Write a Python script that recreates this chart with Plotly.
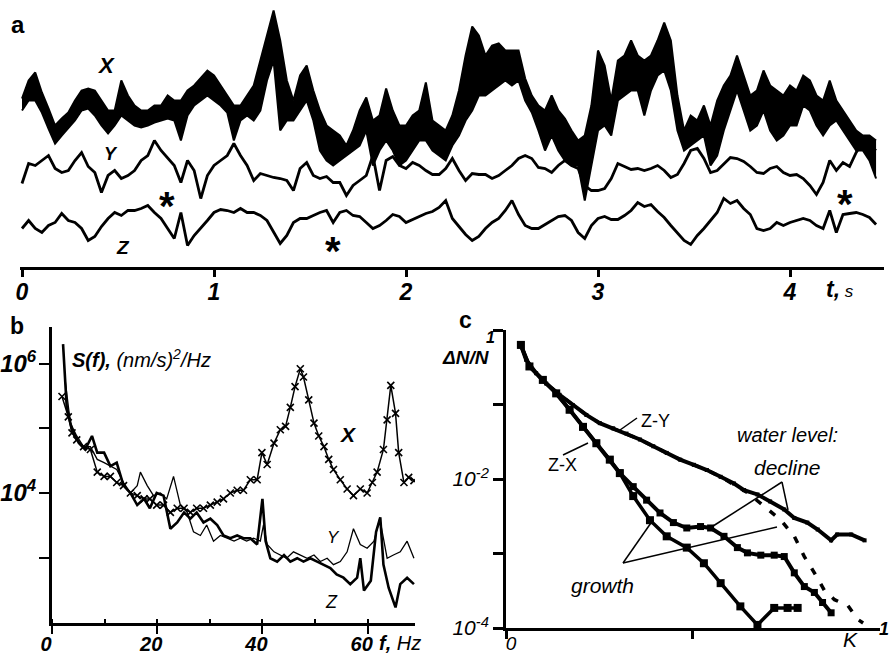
import numpy as np
import plotly.graph_objects as go

# ---------------- panel a : digitised records (arbitrary units, height above the time axis)
fs = 29.0  # samples per second of the digitised record
x_upper = [168, 186, 194, 174, 158, 141, 148, 154, 166, 176,
           178, 176, 166, 156, 156, 186, 171, 161, 156, 156,
           161, 161, 171, 166, 166, 176, 181, 188, 196, 191,
           181, 171, 161, 161, 171, 181, 206, 231, 256, 226,
           186, 166, 191, 201, 176, 156, 141, 136, 131, 121,
           136, 156, 169, 146, 151, 178, 156, 141, 141, 151,
           156, 184, 146, 141, 136, 151, 176, 211, 240, 231,
           211, 221, 223, 216, 216, 216, 188, 171, 161, 156,
           171, 156, 148, 136, 126, 131, 161, 216, 201, 166,
           206, 211, 226, 211, 206, 211, 226, 244, 226, 171,
           136, 151, 146, 161, 141, 166, 181, 191, 211, 191,
           171, 176, 196, 181, 176, 171, 181, 176, 191, 186,
           171, 166, 186, 166, 156, 146, 136, 131, 131, 126]
x_lower = [156, 166, 166, 154, 138, 123, 131, 138, 146, 156,
           158, 151, 141, 133, 141, 151, 146, 141, 139, 141,
           144, 146, 148, 146, 126, 151, 161, 166, 171, 166,
           161, 154, 126, 146, 151, 146, 156, 186, 206, 136,
           146, 146, 156, 166, 146, 116, 106, 101, 106, 111,
           116, 121, 136, 101, 116, 126, 116, 101, 106, 116,
           126, 126, 116, 111, 106, 121, 131, 146, 156, 171,
           171, 176, 181, 186, 181, 186, 166, 154, 136, 116,
           131, 116, 106, 101, 101, 66, 101, 136, 141, 131,
           166, 171, 176, 176, 151, 176, 191, 196, 176, 136,
           116, 121, 126, 131, 101, 111, 136, 156, 176, 156,
           136, 141, 156, 136, 126, 131, 141, 141, 161, 156,
           141, 131, 141, 146, 136, 126, 116, 116, 106, 88]
y_trace = [83, 103, 101, 106, 111, 98, 94, 96, 106, 114,
           100, 94, 74, 91, 96, 88, 91, 96, 106, 111,
           126, 116, 108, 101, 84, 106, 96, 68, 91, 101,
           106, 111, 123, 111, 101, 86, 93, 91, 89, 88,
           86, 76, 98, 104, 91, 88, 90, 84, 84, 71,
           81, 86, 91, 111, 76, 106, 110, 101, 98, 104,
           101, 96, 92, 92, 98, 108, 96, 86, 93, 92,
           92, 88, 91, 96, 101, 108, 111, 108, 99, 98,
           94, 101, 106, 101, 98, 81, 76, 76, 78, 88,
           103, 100, 97, 98, 96, 98, 101, 96, 89, 92,
           103, 116, 118, 108, 94, 96, 102, 109, 108, 105,
           100, 94, 93, 98, 100, 94, 91, 92, 88, 81,
           72, 84, 106, 96, 104, 100, 114, 125, 121, 116]
z_trace = [38, 46, 38, 34, 41, 44, 53, 46, 44, 38,
           26, 30, 40, 48, 54, 51, 56, 56, 58, 61,
           54, 48, 38, 28, 54, 21, 31, 38, 46, 54,
           57, 56, 54, 58, 54, 54, 51, 46, 34, 23,
           31, 44, 48, 48, 51, 54, 56, 44, 54, 56,
           51, 50, 44, 38, 41, 46, 52, 50, 44, 47,
           50, 53, 55, 59, 66, 48, 40, 32, 26, 30,
           38, 44, 48, 56, 66, 52, 41, 38, 38, 42,
           46, 50, 51, 46, 34, 28, 41, 48, 50, 47,
           47, 51, 56, 64, 60, 62, 55, 49, 41, 33,
           26, 22, 31, 38, 46, 54, 68, 63, 66, 58,
           52, 38, 36, 38, 44, 41, 44, 46, 48, 46,
           41, 38, 56, 34, 52, 53, 54, 52, 49, 42]
t = np.arange(len(z_trace)) / fs
a_tickvals = [0, 1, 2, 3, 4]
a_ticktext = ["0", "1", "2", "3", "4"]

# ---------------- panel b : spectra S(f), (nm/s)^2/Hz
fx = [1.9, 3.1, 3.8, 4.7, 6.0, 7.3, 8.6, 9.9, 11.1, 12.3,
      13.6, 14.9, 16.2, 17.5, 18.6, 19.9, 21.2, 22.5, 23.8, 25.1,
      26.3, 27.5, 28.8, 30.1, 31.4, 32.6, 33.9, 35.2, 36.4, 37.7,
      39.0, 39.9, 40.9, 42.2, 43.4, 44.4, 45.3, 46.2, 47.2, 47.8,
      48.8, 49.8, 50.7, 51.7, 52.6, 53.5, 54.8, 56.1, 57.3, 58.6,
      59.9, 60.9, 61.8, 63.0, 63.7, 64.4, 65.3, 65.9, 66.9, 67.8, 68.8]
sx = [3.1e5, 1.5e5, 8.5e4, 6.6e4, 5.2e4, 4.7e4, 2.1e4, 1.8e4, 1.8e4, 1.45e4,
      1.3e4, 1.0e4, 9.1e3, 8.1e3, 8.1e3, 6.5e3, 6.5e3, 5.0e3, 5.8e3, 5.8e3,
      5.0e3, 5.8e3, 5.8e3, 6.5e3, 7.2e3, 8.1e3, 1.0e4, 1.1e4, 1.1e4, 1.6e4,
      1.6e4, 4.2e4, 2.75e4, 5.9e4, 9.5e4, 1.07e5, 2.1e5, 4.4e5, 8.3e5, 6.2e5,
      2.75e5, 1.2e5, 7.6e4, 5.2e4, 3.3e4, 2.3e4, 1.6e4, 1.15e4, 9.1e3, 1.15e4,
      1.0e4, 1.45e4, 2.1e4, 4.7e4, 1.35e5, 4.6e5, 1.7e5, 4.2e4, 1.45e4, 1.74e4, 1.55e4]
fy = [2.5, 3.5, 4.7, 6.0, 7.3, 8.6, 9.9, 11.1, 12.3, 13.6,
      14.9, 16.2, 16.8, 18.1, 19.3, 20.6, 21.8, 23.1, 24.4, 25.7,
      26.9, 28.2, 29.4, 30.7, 32.0, 33.3, 34.6, 35.8, 37.0, 38.3,
      39.6, 40.2, 40.9, 42.2, 43.4, 44.6, 45.9, 47.2, 48.5, 49.8,
      51.0, 52.3, 53.5, 54.8, 56.1, 57.3, 58.6, 59.9, 61.2, 62.3,
      63.7, 64.9, 66.2, 67.5, 68.8]
sy = [5.5e5, 1.2e5, 7.6e4, 5.2e4, 5.2e4, 3.3e4, 2.95e4, 2.6e4, 2.3e4, 1.45e4,
      1.0e4, 1.3e4, 2.1e4, 1.3e4, 9.1e3, 1.0e4, 8.1e3, 1.8e4, 6.5e3, 5.0e3,
      2.5e3, 2.2e3, 3.2e3, 1.8e3, 2.2e3, 2.0e3, 1.8e3, 2.0e3, 1.8e3, 2.0e3,
      1.8e3, 3.2e3, 1.6e3, 1.23e3, 1.1e3, 980, 1.23e3, 1.1e3, 980, 1.1e3,
      870, 980, 780, 870, 1.23e3, 2.8e3, 1.6e3, 1.4e3, 1.8e3, 4.0e3,
      980, 1.1e3, 1.23e3, 1.8e3, 980]
fz = [2.1, 2.8, 3.8, 5.1, 6.3, 7.6, 8.6, 9.9, 11.1, 12.3,
      13.6, 14.9, 16.2, 17.5, 18.6, 19.9, 21.2, 22.5, 23.8, 25.1,
      26.3, 27.5, 28.8, 30.1, 31.4, 32.6, 33.9, 35.2, 36.4, 37.7,
      39.0, 40.0, 40.6, 41.5, 42.8, 44.1, 45.3, 46.6, 47.8, 49.1,
      50.4, 51.7, 52.9, 54.1, 55.4, 56.7, 58.0, 58.6, 59.3, 60.6,
      61.6, 62.4, 63.0, 64.0, 65.3, 66.2, 67.5, 68.8]
sz = [2.0e6, 2.1e5, 9.5e4, 5.9e4, 4.7e4, 7.6e4, 4.2e4, 4.2e4, 2.6e4, 2.95e4,
      1.3e4, 1.0e4, 6.5e3, 8.1e3, 5.8e3, 1.0e4, 9.1e3, 2.8e3, 3.5e3, 5.0e3,
      4.0e3, 5.0e3, 3.5e3, 4.0e3, 3.2e3, 2.2e3, 2.0e3, 2.2e3, 2.0e3, 2.0e3,
      1.6e3, 8.1e3, 1.8e3, 980, 870, 1.1e3, 870, 980, 870, 980,
      870, 780, 690, 550, 490, 390, 490, 980, 310, 440,
      2.5e3, 4.2e3, 780, 340, 170, 390, 490, 390]
b_xticks = [0, 20, 40, 60]
b_xticktext = ["0", "20", "40", "60"]
b_yticks = [1e4, 1e6]
b_yticktext = ["10<sup>4</sup>", "10<sup>6</sup>"]
b_yminor = [1e3, 1e5]

# ---------------- panel c : distributions dN/N versus K
k_zy = [0.04, 0.054, 0.081, 0.108, 0.144, 0.18, 0.216, 0.252, 0.288, 0.324,
        0.36, 0.396, 0.432, 0.468, 0.505, 0.54, 0.577, 0.613, 0.64, 0.676,
        0.71, 0.748, 0.775, 0.81, 0.838, 0.874, 0.89, 0.928, 0.964]
n_zy = [0.631, 0.398, 0.263, 0.191, 0.135, 0.0977, 0.0724, 0.0562, 0.0479, 0.0407,
        0.0339, 0.0275, 0.0224, 0.0182, 0.0155, 0.0132, 0.0107, 0.0087, 0.0071, 0.0062,
        0.0050, 0.0039, 0.0030, 0.0026, 0.0021, 0.0015, 0.0018, 0.0018, 0.0015]
k_zy2 = [0.04, 0.054, 0.081, 0.108, 0.144, 0.18, 0.216, 0.252, 0.288, 0.324,
         0.36, 0.396, 0.432, 0.468, 0.505, 0.54, 0.577, 0.613, 0.65, 0.694,
         0.739, 0.775, 0.802, 0.829, 0.856, 0.883, 0.919, 0.946, 0.96]
n_zy2 = [0.631, 0.398, 0.263, 0.191, 0.135, 0.0977, 0.0724, 0.0562, 0.0479, 0.0407,
         0.0339, 0.0275, 0.0224, 0.0182, 0.0155, 0.0132, 0.0107, 0.0083, 0.0065, 0.0043,
         0.0028, 0.0017, 0.00091, 0.00055, 0.00032, 0.00024, 0.0002, 0.00013, 0.000117]
k_zx = [0.04, 0.063, 0.099, 0.135, 0.171, 0.207, 0.243, 0.279, 0.306, 0.342,
        0.378, 0.414, 0.45, 0.486, 0.523, 0.55, 0.586, 0.622, 0.649, 0.685,
        0.721, 0.748, 0.775, 0.802, 0.829, 0.851, 0.874]
n_zx = [0.631, 0.324, 0.214, 0.141, 0.0851, 0.0501, 0.0302, 0.0182, 0.0120, 0.0079,
        0.0052, 0.0035, 0.0026, 0.0022, 0.0023, 0.0022, 0.0017, 0.0012, 0.00102, 0.00095,
        0.00095, 0.00091, 0.00055, 0.00036, 0.00030, 0.00022, 0.00016]
k_zx2 = [0.04, 0.063, 0.099, 0.135, 0.171, 0.207, 0.243, 0.279, 0.306, 0.342,
         0.387, 0.432, 0.486, 0.532, 0.577, 0.63, 0.676, 0.721, 0.757, 0.784]
n_zx2 = [0.631, 0.324, 0.214, 0.141, 0.0851, 0.0501, 0.0302, 0.0182, 0.0120, 0.0059,
         0.0028, 0.0017, 0.0012, 0.00074, 0.0004, 0.000195, 0.00011, 0.000186, 0.000186, 0.000186]
c_yticks = [1e-4, 1e-2]
c_yticktext = ["10<sup>-4</sup>", "10<sup>-2</sup>"]
c_yminor = [1e-3, 1e-1, 1]
c_xticks = [0]
c_xticktext = ["0"]
c_xminor = [0.5]

# ---------------- figure
W, H = 889, 655
FONT = "Liberation Sans, Arial, sans-serif"
BLACK = "black"


def PX(x):
    return x / W


def PY(y):
    return 1 - y / H


fig = go.Figure()

# panel a
fig.add_trace(go.Scatter(x=t, y=x_lower, mode="lines", line=dict(color=BLACK, width=2),
                         xaxis="x", yaxis="y", hoverinfo="skip"))
fig.add_trace(go.Scatter(x=t, y=x_upper, mode="lines", line=dict(color=BLACK, width=2),
                         fill="tonexty", fillcolor=BLACK, xaxis="x", yaxis="y", hoverinfo="skip"))
fig.add_trace(go.Scatter(x=t, y=y_trace, mode="lines", line=dict(color=BLACK, width=2.8),
                         xaxis="x", yaxis="y"))
fig.add_trace(go.Scatter(x=t, y=z_trace, mode="lines", line=dict(color=BLACK, width=2.8),
                         xaxis="x", yaxis="y"))

# panel b
fig.add_trace(go.Scatter(x=fz, y=sz, mode="lines", line=dict(color=BLACK, width=2.6),
                         xaxis="x2", yaxis="y2"))
fig.add_trace(go.Scatter(x=fy, y=sy, mode="lines", line=dict(color=BLACK, width=1.3),
                         xaxis="x2", yaxis="y2"))
fig.add_trace(go.Scatter(x=fx, y=sx, mode="lines+markers", line=dict(color=BLACK, width=1.5),
                         marker=dict(symbol="x-thin-open", size=7, color=BLACK,
                                     line=dict(width=1.6, color=BLACK)),
                         xaxis="x2", yaxis="y2"))

# panel c
fig.add_trace(go.Scatter(x=k_zy2, y=n_zy2, mode="lines", line=dict(color=BLACK, width=3.5, dash="7px,11px"),
                         xaxis="x3", yaxis="y3"))
fig.add_trace(go.Scatter(x=k_zy, y=n_zy, mode="lines+markers", line=dict(color=BLACK, width=4),
                         marker=dict(symbol="square", size=4, color=BLACK),
                         xaxis="x3", yaxis="y3"))
fig.add_trace(go.Scatter(x=k_zx2, y=n_zx2, mode="lines+markers", line=dict(color=BLACK, width=3.5),
                         marker=dict(symbol="square", size=8, color=BLACK),
                         xaxis="x3", yaxis="y3"))
fig.add_trace(go.Scatter(x=k_zx, y=n_zx, mode="lines+markers", line=dict(color=BLACK, width=4),
                         marker=dict(symbol="square", size=7, color=BLACK),
                         xaxis="x3", yaxis="y3"))

axis_common = dict(showgrid=False, zeroline=False, showline=True, linecolor=BLACK,
                   tickcolor=BLACK, color=BLACK, automargin=False)

fig.update_layout(
    template="none",
    width=W, height=H, margin=dict(l=0, r=0, t=0, b=0, pad=0), autosize=False,
    paper_bgcolor="white", plot_bgcolor="white", showlegend=False,
    font=dict(family=FONT, color=BLACK),
    xaxis=dict(domain=[PX(20), PX(884)], range=[-2 / 192, 862 / 192], anchor="y",
               linewidth=3, ticks="outside", ticklen=7, tickwidth=2.5,
               tickvals=a_tickvals, ticktext=a_ticktext, ticklabelstandoff=-4,
               tickfont=dict(size=23, weight="bold", style="italic", family=FONT),
               **axis_common),
    yaxis=dict(domain=[PY(266.5), 1], range=[0, 266.5], visible=False, anchor="x",
               automargin=False),
    xaxis2=dict(domain=[PX(52), PX(415)], range=[0, 69], anchor="y2",
                linewidth=3, ticks="outside", ticklen=8, tickwidth=2,
                tickvals=b_xticks, ticktext=b_xticktext, ticklabelshift=-6, ticklabelstandoff=-7,
                minor=dict(dtick=10, ticks="inside", ticklen=4, tickwidth=1.5, tickcolor=BLACK),
                tickfont=dict(size=20, weight="bold", style="italic", family=FONT),
                **axis_common),
    yaxis2=dict(domain=[PY(623), PY(327)], type="log", range=[1.99, 6.565], anchor="x2",
                linewidth=3, ticks="outside", ticklen=10, tickwidth=2,
                tickvals=b_yticks, ticktext=b_yticktext, ticklabelstandoff=-2,
                minor=dict(tickvals=b_yminor, ticks="outside", ticklen=10, tickwidth=2, tickcolor=BLACK),
                tickfont=dict(size=24, weight="bold", style="italic", family=FONT),
                **axis_common),
    xaxis3=dict(domain=[PX(506), PX(880)], range=[0, 1.0054], anchor="y3",
                linewidth=3, ticks="outside", ticklen=8, tickwidth=2.5,
                tickvals=c_xticks, ticktext=c_xticktext, ticklabelstandoff=-12,
                ticklabelshift=5,
                minor=dict(tickvals=c_xminor, ticks="outside", ticklen=8, tickwidth=2.5, tickcolor=BLACK),
                tickfont=dict(size=19, style="italic", family=FONT),
                **axis_common),
    yaxis3=dict(domain=[PY(628), PY(330)], type="log", range=[-4, 0], anchor="x3",
                linewidth=3, ticks="outside", ticklen=10, tickwidth=2.5,
                tickvals=c_yticks, ticktext=c_yticktext, ticklabelstandoff=0,
                minor=dict(tickvals=c_yminor, ticks="outside", ticklen=10, tickwidth=2.5, tickcolor=BLACK),
                tickfont=dict(size=21, style="italic", family=FONT),
                **axis_common),
)


def note(text, x, y, size, xanchor="center", yanchor="middle"):
    fig.add_annotation(text=text, x=PX(x), y=PY(y), xref="paper", yref="paper",
                       showarrow=False, xanchor=xanchor, yanchor=yanchor,
                       font=dict(size=size, family=FONT, color=BLACK))


# panel a texts
note("<b>a</b>", 18, 25, 24)
note("<b><i>X</i></b>", 106, 65, 22)
note("<b><i>Y</i></b>", 111, 154, 18)
note("<b><i>Z</i></b>", 123, 247, 19)
note("<b>*</b>", 167, 206, 40)
note("<b>*</b>", 333, 251, 40)
note("<b>*</b>", 845, 204, 40)
note("<b><i>t,</i></b><i><span style='font-size:17px'> s</span></i>", 840, 289, 23)

# panel b texts
note("<b>b</b>", 17, 326, 23)
note("<b><i>S(f),</i></b><i> (nm/s)<sup>2</sup>/Hz</i>", 70, 358, 20, xanchor="left")
note("<b><i>X</i></b>", 348, 434, 21)
note("<i>Y</i>", 333, 537, 17)
note("<i>Z</i>", 331, 602, 18)
note("<b><i>f,</i></b><i> Hz</i>", 377, 643, 20, xanchor="left")

# panel c texts
note("<b>c</b>", 465, 320, 23)
note("<b><i>1</i></b>", 490, 338, 16)
note("<b><i>\u0394N/N</i></b>", 466, 357, 19)
note("<i>K</i>", 850, 639, 21)
note("<b><i>1</i></b>", 884, 629, 18)
note("Z-Y", 655, 421, 18)
note("Z-X", 562, 465, 18)
note("<i>water level:</i>", 787, 435, 20)
note("<i>decline</i>", 787, 467, 21)
note("<i>growth</i>", 602, 585, 21)

leaders = [((637, 418), (620, 430)),
           ((563, 455), (588, 443)),
           ((782, 482), (710, 528)),
           ((782, 482), (788, 510)),
           ((623, 563), (653, 520)),
           ((623, 563), (777, 527))]
for (xa, ya), (xb, yb) in leaders:
    fig.add_shape(type="line", xref="paper", yref="paper",
                  x0=PX(xa), y0=PY(ya), x1=PX(xb), y1=PY(yb),
                  line=dict(color=BLACK, width=1.5))

fig.write_html("out.html")
